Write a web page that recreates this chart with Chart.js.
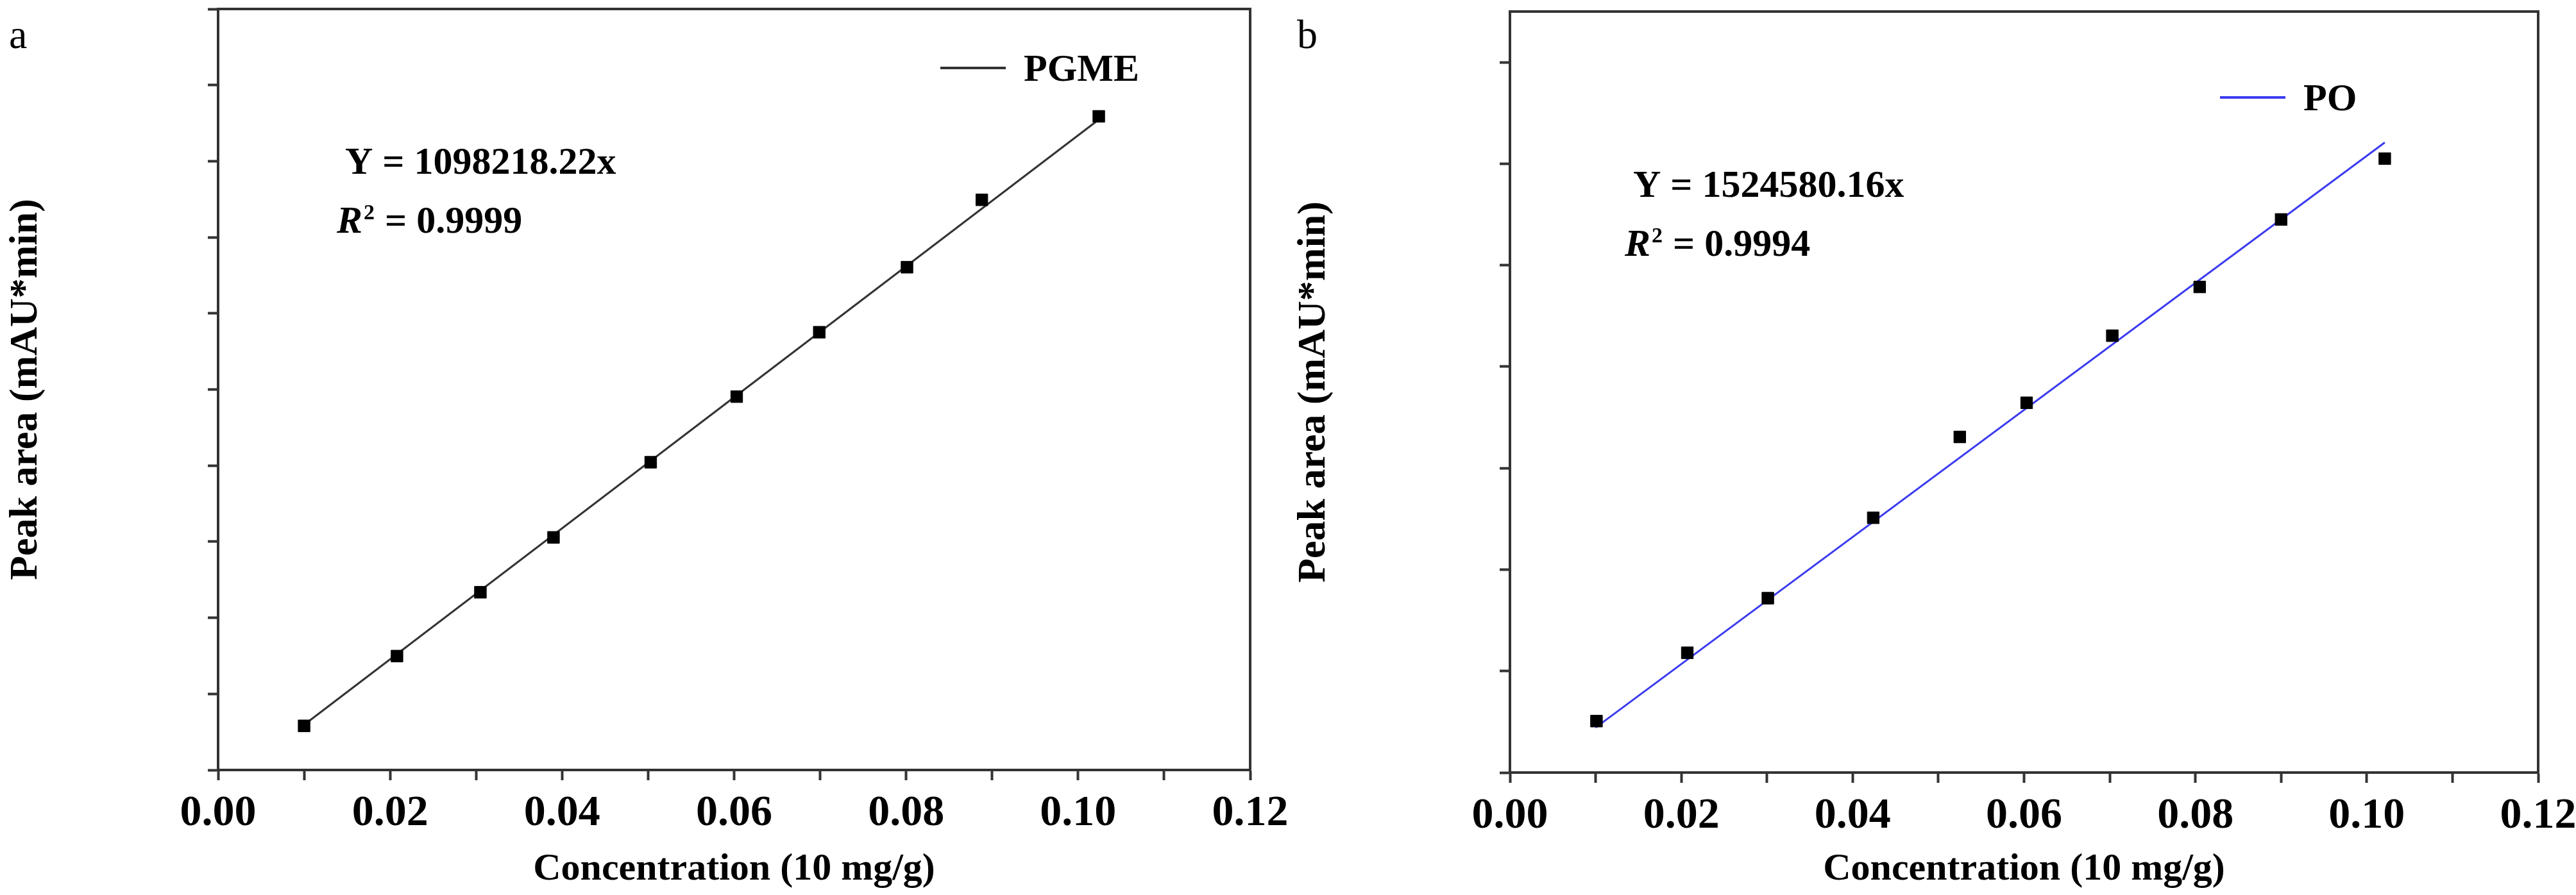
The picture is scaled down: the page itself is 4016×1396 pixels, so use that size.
<!DOCTYPE html>
<html>
<head>
<meta charset="utf-8">
<script src="https://cdn.jsdelivr.net/npm/chart.js@4.4.1/dist/chart.umd.min.js"></script>
<style>
  body { margin: 0; background: #fff; }
  .panel { position: absolute; top: 0; width: 2008px; height: 1396px; }
</style>
</head>
<body>
<div class="panel" style="left:0"><canvas id="chA"></canvas></div>
<div class="panel" style="left:2008px"><canvas id="chB"></canvas></div>
<script>
// Panel a: PGME
const pgmeX = [0.0100, 0.0208, 0.0305, 0.0390, 0.0503, 0.0603, 0.0699, 0.0801, 0.0888, 0.1024];
const pgmeY = [10800, 22500, 33200, 42400, 55000, 66000, 76800, 87700, 99000, 113000];
const pgmeFitX = [0.0100, 0.1024];
const pgmeFitY = [10982, 112457];

// Panel b: PO
const poX = [0.0101, 0.0207, 0.0301, 0.0424, 0.0525, 0.0603, 0.0703, 0.0805, 0.0900, 0.1021];
const poY = [16800, 33200, 46300, 65600, 85000, 93200, 109300, 121000, 137200, 151800];
const poFitX = [0.0100, 0.1021];
const poFitY = [15246, 155660];

const FONT = '"Liberation Serif", "Times New Roman", serif';

// frame, annotations and legend drawn on top of the chart area
const framePlugin = {
  id: 'frame',
  afterDraw(chart, args, o) {
    const { ctx, chartArea: a } = chart;
    ctx.save();
    ctx.strokeStyle = '#333';
    ctx.lineWidth = 4;
    ctx.strokeRect(a.left, a.top, a.right - a.left, a.bottom - a.top);
    ctx.fillStyle = '#000';
    ctx.textBaseline = 'middle';
    // equation text
    ctx.font = 'bold 60px ' + FONT;
    ctx.fillText(o.eq, 538, o.eqY);
    ctx.font = 'italic bold 60px ' + FONT;
    ctx.fillText('R', 525, o.eqY + 92);
    let w = ctx.measureText('R').width;
    ctx.font = 'bold 34px ' + FONT;
    ctx.fillText('2', 525 + w + 2, o.eqY + 78);
    ctx.font = 'bold 60px ' + FONT;
    ctx.fillText(' = ' + o.r2, 525 + w + 20, o.eqY + 92);
    // legend
    ctx.strokeStyle = o.color;
    ctx.lineWidth = 4;
    ctx.beginPath();
    ctx.moveTo(o.legX, o.legY);
    ctx.lineTo(o.legX + 102, o.legY);
    ctx.stroke();
    ctx.fillText(o.name, o.legX + 130, o.legY + 4);
    // panel letter
    ctx.font = '64px ' + FONT;
    ctx.fillText(o.letter, 14, 58);
    ctx.restore();
  }
};

const isMajor = (v, step) => Math.abs(v / step - Math.round(v / step)) < 1e-6;

function makeChart(id, xs, ys, fx, fy, color, yMin, yMax, opts) {
  const pts = xs.map((x, i) => ({ x: x, y: ys[i] }));
  const fit = fx.map((x, i) => ({ x: x, y: fy[i] }));
  return new Chart(document.getElementById(id), {
    type: 'scatter',
    data: {
      datasets: [
        { type: 'line', data: fit, borderColor: color, borderWidth: 3, pointRadius: 0, order: 2 },
        { data: pts, pointStyle: 'rect', pointRadius: 13, backgroundColor: '#000', borderColor: '#000', order: 1 }
      ]
    },
    plugins: [framePlugin],
    options: {
      responsive: true,
      maintainAspectRatio: false,
      animation: false,
      layout: { padding: { top: opts.top, right: 59, left: 0, bottom: 0 } },
      plugins: {
        legend: { display: false },
        tooltip: { enabled: false },
        frame: opts
      },
      scales: {
        x: {
          type: 'linear', min: 0, max: 0.12,
          afterFit(s) { s.height = 1396 - opts.bottom; s.paddingLeft = 0; s.paddingRight = 0; },
          border: { color: '#333', width: 4 },
          grid: { drawOnChartArea: false, tickLength: 16, tickWidth: 4, color: '#333' },
          ticks: {
            stepSize: 0.01, color: '#000', padding: 12,
            font: { family: FONT, size: 68, weight: 'bold' },
            callback: v => (isMajor(v, 0.02) ? v.toFixed(2) : '')
          },
          title: {
            display: true, text: 'Concentration (10 mg/g)', color: '#000',
            font: { family: FONT, size: 60, weight: 'bold' }, padding: { top: 14 }
          }
        },
        y: {
          min: yMin, max: yMax,
          afterFit(s) { s.width = opts.left; s.paddingTop = 0; s.paddingBottom = 0; },
          border: { color: '#333', width: 4 },
          grid: { drawOnChartArea: false, tickLength: 16, tickWidth: 4, color: '#333' },
          ticks: {
            stepSize: 12500, includeBounds: false, color: '#000', padding: 10,
            font: { family: FONT, size: 68, weight: 'bold' },
            callback: v => (isMajor(v, 25000) ? Math.round(v).toLocaleString('en-US') : '')
          },
          title: {
            display: true, text: 'Peak area (mAU*min)', color: '#000',
            font: { family: FONT, size: 62, weight: 'bold' }, padding: { bottom: 4 }
          }
        }
      }
    }
  });
}

makeChart('chA', pgmeX, pgmeY, pgmeFitX, pgmeFitY, '#333', 3400, 131000,
  { left: 340, top: 11, bottom: 1201, eq: 'Y = 1098218.22x', r2: '0.9999', eqY: 255,
    legX: 1466, legY: 106, name: 'PGME', color: '#333', letter: 'a' });
makeChart('chB', poX, poY, poFitX, poFitY, '#3b3bf0', 4450, 187100,
  { left: 346, top: 18, bottom: 1205, eq: 'Y = 1524580.16x', r2: '0.9994', eqY: 291,
    legX: 1453, legY: 152, name: 'PO', color: '#3b3bf0', letter: 'b' });
</script>
</body>
</html>
